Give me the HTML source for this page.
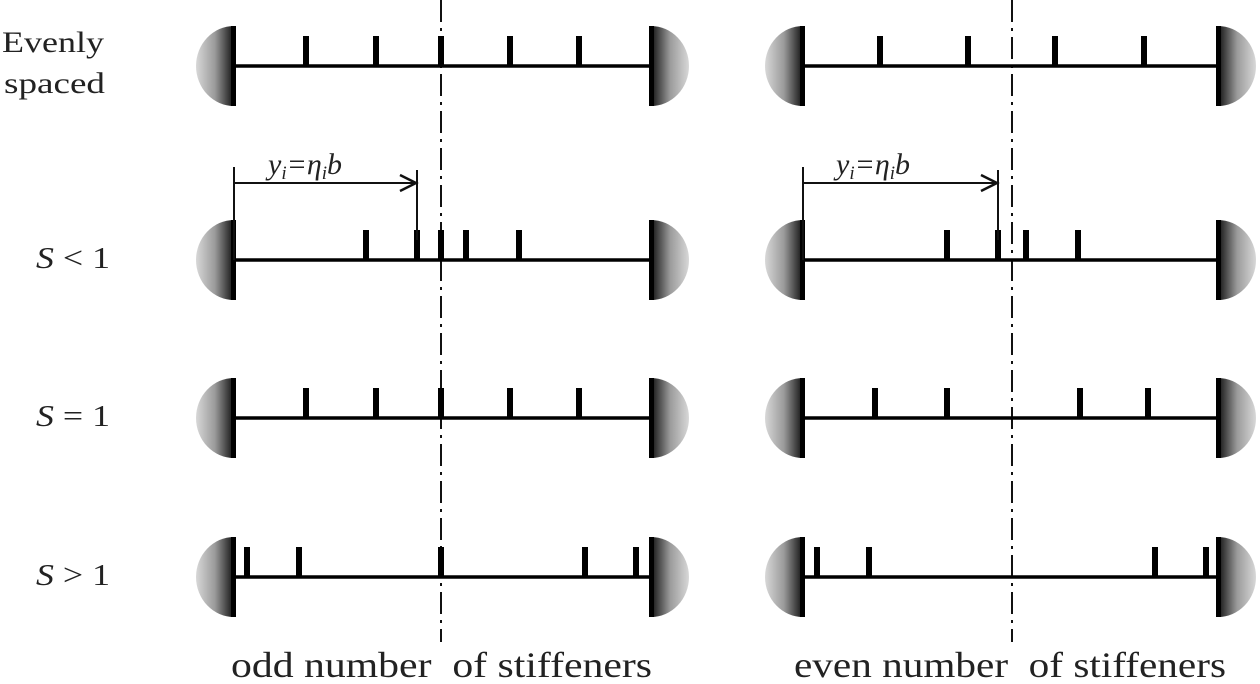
<!DOCTYPE html>
<html><head><meta charset="utf-8"><style>
html,body{margin:0;padding:0;background:#fff;width:1260px;height:684px;overflow:hidden}
svg{display:block}
text{font-family:"Liberation Serif",serif;fill:#222}
</style></head><body>
<svg width="1260" height="684" viewBox="0 0 1260 684" xmlns="http://www.w3.org/2000/svg">
<defs>
<linearGradient id="gl" x1="0" x2="1" y1="0" y2="0"><stop offset="0" stop-color="#d8d8d8"/><stop offset="0.5" stop-color="#9a9a9a"/><stop offset="1" stop-color="#111"/></linearGradient>
<linearGradient id="gr" x1="1" x2="0" y1="0" y2="0"><stop offset="0" stop-color="#d8d8d8"/><stop offset="0.5" stop-color="#9a9a9a"/><stop offset="1" stop-color="#111"/></linearGradient>
<g id="sl"><path d="M0,-40 A38,40 0 0 0 0,40 Z" fill="url(#gl)"/><rect x="-3" y="-40" width="5" height="80" fill="#000"/></g>
<g id="sr"><path d="M0,-40 A38,40 0 0 1 0,40 Z" fill="url(#gr)"/><rect x="-2" y="-40" width="5" height="80" fill="#000"/></g>
<rect id="t" x="-3" y="-30" width="6" height="30" fill="#000"/>
</defs>
<line x1="441" y1="0" x2="441" y2="642" stroke="#111" stroke-width="2" stroke-dasharray="22,6,3,6"/>
<line x1="1012" y1="0" x2="1012" y2="642" stroke="#111" stroke-width="2" stroke-dasharray="22,6,3,6"/>
<g>
<line x1="234" y1="66" x2="651" y2="66" stroke="#000" stroke-width="3.5"/>
<use href="#sl" x="234" y="66"/><use href="#sr" x="651" y="66"/>
<use href="#t" x="306" y="66"/><use href="#t" x="376" y="66"/><use href="#t" x="441" y="66"/><use href="#t" x="510" y="66"/><use href="#t" x="579" y="66"/>
<line x1="803" y1="66" x2="1218" y2="66" stroke="#000" stroke-width="3.5"/>
<use href="#sl" x="803" y="66"/><use href="#sr" x="1218" y="66"/>
<use href="#t" x="880" y="66"/><use href="#t" x="968" y="66"/><use href="#t" x="1055" y="66"/><use href="#t" x="1144" y="66"/>
<line x1="234" y1="260" x2="651" y2="260" stroke="#000" stroke-width="3.5"/>
<use href="#sl" x="234" y="260"/><use href="#sr" x="651" y="260"/>
<use href="#t" x="366" y="260"/><use href="#t" x="417" y="260"/><use href="#t" x="441" y="260"/><use href="#t" x="466" y="260"/><use href="#t" x="519" y="260"/>
<line x1="803" y1="260" x2="1218" y2="260" stroke="#000" stroke-width="3.5"/>
<use href="#sl" x="803" y="260"/><use href="#sr" x="1218" y="260"/>
<use href="#t" x="947" y="260"/><use href="#t" x="998" y="260"/><use href="#t" x="1026" y="260"/><use href="#t" x="1078" y="260"/>
<line x1="234" y1="418" x2="651" y2="418" stroke="#000" stroke-width="3.5"/>
<use href="#sl" x="234" y="418"/><use href="#sr" x="651" y="418"/>
<use href="#t" x="306" y="418"/><use href="#t" x="376" y="418"/><use href="#t" x="441" y="418"/><use href="#t" x="510" y="418"/><use href="#t" x="579" y="418"/>
<line x1="803" y1="418" x2="1218" y2="418" stroke="#000" stroke-width="3.5"/>
<use href="#sl" x="803" y="418"/><use href="#sr" x="1218" y="418"/>
<use href="#t" x="875" y="418"/><use href="#t" x="947" y="418"/><use href="#t" x="1080" y="418"/><use href="#t" x="1148" y="418"/>
<line x1="234" y1="577" x2="651" y2="577" stroke="#000" stroke-width="3.5"/>
<use href="#sl" x="234" y="577"/><use href="#sr" x="651" y="577"/>
<use href="#t" x="247" y="577"/><use href="#t" x="299" y="577"/><use href="#t" x="441" y="577"/><use href="#t" x="585" y="577"/><use href="#t" x="636" y="577"/>
<line x1="803" y1="577" x2="1218" y2="577" stroke="#000" stroke-width="3.5"/>
<use href="#sl" x="803" y="577"/><use href="#sr" x="1218" y="577"/>
<use href="#t" x="817" y="577"/><use href="#t" x="869" y="577"/><use href="#t" x="1155" y="577"/><use href="#t" x="1206" y="577"/>
</g>
<g stroke="#111" stroke-width="2" fill="none">
<line x1="234" y1="167" x2="234" y2="260"/><line x1="234" y1="183" x2="415" y2="183"/><polyline points="400,175 416,183 400,191" stroke-width="2.5"/><line x1="417" y1="170" x2="417" y2="240"/>
<line x1="803" y1="167" x2="803" y2="260"/><line x1="803" y1="183" x2="996" y2="183"/><polyline points="981,175 997,183 981,191" stroke-width="2.5"/><line x1="998" y1="170" x2="998" y2="240"/>
</g>
<text x="268" y="174" font-size="30" font-style="italic" fill="#444">y<tspan font-size="19" dy="5">i</tspan><tspan dy="-5">=η</tspan><tspan font-size="19" dy="5">i</tspan><tspan dy="-5">b</tspan></text>
<text x="836" y="174" font-size="30" font-style="italic" fill="#444">y<tspan font-size="19" dy="5">i</tspan><tspan dy="-5">=η</tspan><tspan font-size="19" dy="5">i</tspan><tspan dy="-5">b</tspan></text>
<text x="2" y="52" font-size="30" textLength="102" lengthAdjust="spacingAndGlyphs">Evenly</text>
<text x="4" y="93" font-size="30" textLength="101" lengthAdjust="spacingAndGlyphs">spaced</text>
<text x="36" y="268" font-size="31" textLength="74" lengthAdjust="spacingAndGlyphs"><tspan font-style="italic">S</tspan> &lt; 1</text>
<text x="36" y="426" font-size="31" textLength="74" lengthAdjust="spacingAndGlyphs"><tspan font-style="italic">S</tspan> = 1</text>
<text x="36" y="585" font-size="31" textLength="74" lengthAdjust="spacingAndGlyphs"><tspan font-style="italic">S</tspan> &gt; 1</text>
<text x="231" y="677" font-size="36" textLength="421" lengthAdjust="spacingAndGlyphs">odd number&#160; of stiffeners</text>
<text x="794" y="677" font-size="36" textLength="432" lengthAdjust="spacingAndGlyphs">even number&#160; of stiffeners</text>
</svg>
</body></html>
